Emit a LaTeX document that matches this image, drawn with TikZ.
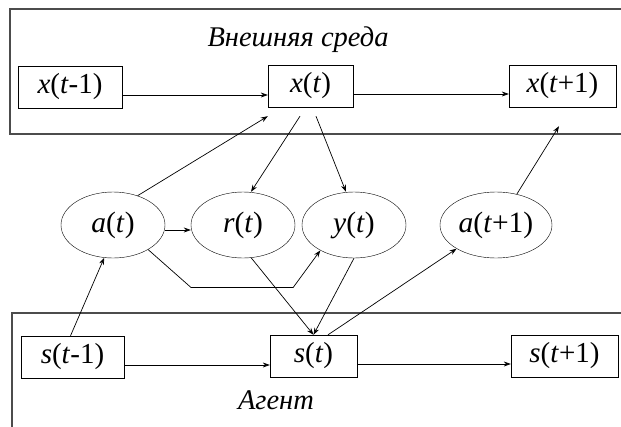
\documentclass[tikz,border=0pt]{standalone}
\usepackage{fontspec}
\setmainfont{Liberation Serif}
\usetikzlibrary{shapes.geometric,arrows.meta}

\begin{document}
\begin{tikzpicture}[x=1pt,y=-1pt,
    box/.style={draw,rectangle,inner sep=0pt,minimum height=42pt,font=\fontsize{29}{30}\selectfont},
    oval/.style={draw,ellipse,inner sep=0pt,minimum width=104pt,minimum height=66pt,font=\fontsize{29.5}{30}\selectfont},
    frame/.style={draw=black!70,line width=1.2pt},
    arr/.style={-{Stealth[length=7pt,width=5pt]},line width=0.7pt},
    lbl/.style={font=\fontsize{28.5}{30}\selectfont\itshape}]
  \useasboundingbox (0,0) rectangle (621,426);
  \clip (0,0) rectangle (621,426);

  % frames
  \draw[frame] (10,9) rectangle (650,134);
  \draw[frame] (12,313) rectangle (650,450);
  \node[lbl] (env) at (298,40) {Внешняя среда};
  \node[lbl] (agent) at (276,400) {Агент};

  % environment
  \node[box,minimum width=104pt] (xprev) at (70,87) {\textit{x}(\textit{t}-1)};
  \node[box,minimum width=85pt] (xcur) at (310.5,86) {\textit{x}(\textit{t})};
  \node[box,minimum width=107pt] (xnext) at (562.5,86) {\textit{x}(\textit{t}+1)};

  % agent
  \node[box,minimum width=103pt] (sprev) at (72.5,357) {\textit{s}(\textit{t}-1)};
  \node[box,minimum width=87pt] (scur) at (313.5,356) {\textit{s}(\textit{t})};
  \node[box,minimum width=107pt] (snext) at (564.5,356) {\textit{s}(\textit{t}+1)};

  % actions and observations
  \node[oval] (at) at (113,225) {\textit{a}(\textit{t})};
  \node[oval] (rt) at (243,225) {\textit{r}(\textit{t})};
  \node[oval] (yt) at (354,225) {\textit{y}(\textit{t})};
  \node[oval,minimum width=112pt] (anext) at (496,225) {\textit{a}(\textit{t}+1)};

  \draw[arr] ([yshift=-8pt]xprev.east) -- ([yshift=-8pt]xprev.east -| xcur.west);
  \draw[arr] ([yshift=-8pt]xcur.east) -- ([yshift=-8pt]xcur.east -| xnext.west);
  \draw[arr] ([yshift=-8pt]sprev.east) -- ([yshift=-8pt]sprev.east -| scur.west);
  \draw[arr] ([yshift=-8pt]scur.east) -- ([yshift=-8pt]scur.east -| snext.west);

  \draw[arr] (at.50) -- ([yshift=-9pt]xcur.south west);
  \draw[arr] ([shift={(-10.5pt,-9pt)}]xcur.south) -- ([xshift=8pt]rt.north);
  \draw[arr] ([shift={(5.5pt,-9pt)}]xcur.south) -- ([xshift=-8pt]yt.north);
  \draw[arr] (anext.56) -- ([shift={(-3.5pt,-19pt)}]xnext.south);

  \draw[arr] ([yshift=-5pt]at.east) -- ([yshift=-5pt]rt.west);
  \draw[arr] (at.325) -- ++(43,38) -- ++(102,0) -- (yt.217);

  \draw[arr] ([xshift=-2pt]sprev.north) -- (at.255);
  \draw[arr] (rt.284) -- (scur.north);
  \draw[arr] (yt.south) -- (scur.north);
  \draw[arr] ([xshift=14.5pt]scur.north) -- (anext.211);
\end{tikzpicture}
\end{document}
